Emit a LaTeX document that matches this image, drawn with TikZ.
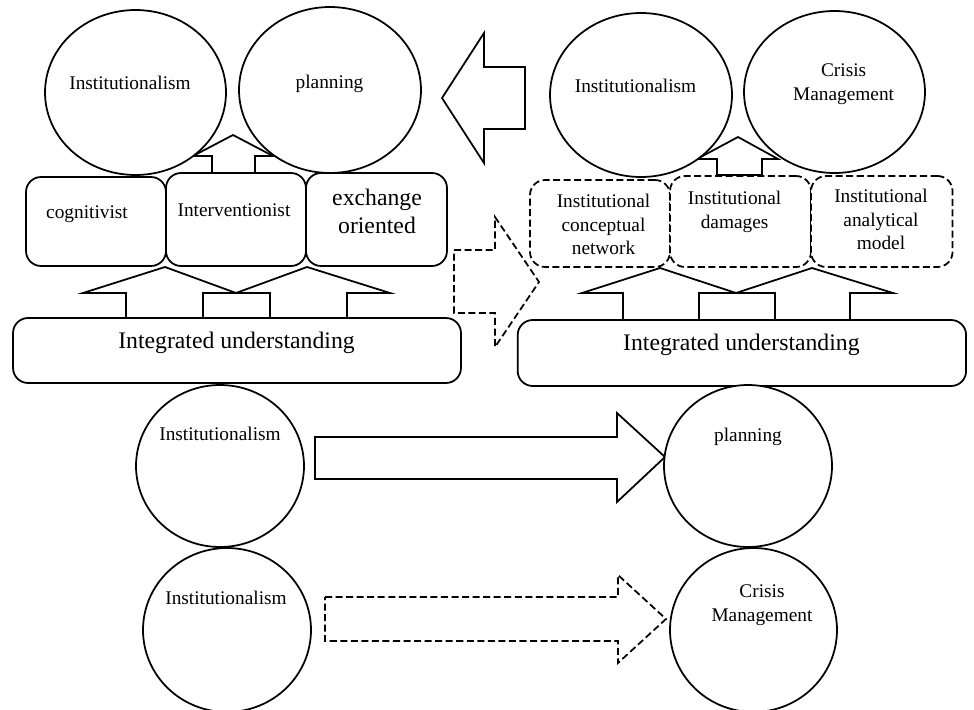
\documentclass[tikz,border=0pt]{standalone}
\usepackage{fontspec}
\setmainfont{Liberation Serif}
\usetikzlibrary{shapes.geometric}
\tikzset{circ/.style = {draw, fill=white, line width=1pt, ellipse, inner sep=0pt},
         blk/.style = {draw, fill=white, line width=1pt, rectangle, rounded corners=0.3cm, inner sep=0pt},
         dblk/.style = {blk, dash pattern=on 4pt off 2pt},
         barrow/.style = {draw, fill=white, line width=1pt, line join=miter},
         dbarrow/.style = {barrow, dash pattern=on 4pt off 2pt},
         lbl/.style = {inner sep=0pt, align=center, font=\fontsize{11}{14}\selectfont},
         biglbl/.style = {lbl, font=\fontsize{13.5}{16}\selectfont},
         boxlbl/.style = {lbl, font=\fontsize{11}{13.3}\selectfont}}

\begin{document}
\begin{tikzpicture}[x=0.02cm, y=-0.02cm]
    \useasboundingbox (0,0) rectangle (974,710);
    % block arrows
    \draw[barrow](525,67)--(484,67)--(484,33)--(442,98)--(484,163)--(484,129)--(525,129)--cycle;
    \draw[dbarrow](454,250)--(495,250)--(495,217)--(539,282)--(495,347)--(495,313)--(454,313)--cycle;
    \draw[barrow](212,173)--(212,156)--(193,156)--(233,135)--(273,156)--(255,156)--(255,173)--cycle;
    \draw[barrow](717,175)--(717,159)--(697,159)--(738,137)--(778,159)--(762,159)--(762,175)--cycle;
    \draw[barrow](126,318)--(126,293)--(83,293)--(165,267)--(236,293)--(203,293)--(203,318)--cycle;
    \draw[barrow](270,318)--(270,293)--(236,293)--(307,267)--(390,293)--(347,293)--(347,318)--cycle;
    \draw[barrow](623,320)--(623,293)--(582,293)--(660,268)--(736,293)--(699,293)--(699,320)--cycle;
    \draw[barrow](775,320)--(775,293)--(736,293)--(812,268)--(893,293)--(850,293)--(850,320)--cycle;
    \draw[barrow](315,437)--(617,437)--(617,413)--(665,457)--(617,502)--(617,479)--(315,479)--cycle;
    \draw[dbarrow](325,597)--(618,597)--(618,575)--(666,619)--(618,663)--(618,641)--(325,641)--cycle;
    % boxes
    \node[blk, minimum width=2.8cm, minimum height=1.78cm](cog)at(96,221.5){};
    \node[blk, minimum width=2.8cm, minimum height=1.86cm](interv)at(236,219.5){};
    \node[blk, minimum width=2.82cm, minimum height=1.86cm](exch)at(376.5,219.5){};
    \node[blk, minimum width=8.96cm, minimum height=1.3cm](intL)at(237,350.5){};
    \node[dblk, minimum width=2.8cm, minimum height=1.74cm](concept)at(600,223.5){};
    \node[dblk, minimum width=2.82cm, minimum height=1.82cm](damage)at(740.5,221.5){};
    \node[dblk, minimum width=2.83cm, minimum height=1.82cm](analyt)at(881.8,221.5){};
    \node[blk, minimum width=8.97cm, minimum height=1.32cm](intR)at(741.9,353){};
    % circles
    \node[circ, minimum width=3.62cm, minimum height=3.3cm](instA)at(135.5,92.5){};
    \node[circ, minimum width=3.64cm, minimum height=3.32cm](planA)at(330,90){};
    \node[circ, minimum width=3.64cm, minimum height=3.28cm](instB)at(641,95){};
    \node[circ, minimum width=3.62cm, minimum height=3.24cm](crisB)at(834.5,92){};
    \node[circ, minimum width=3.36cm, minimum height=3.24cm](instC)at(220,466){};
    \node[circ, minimum width=3.36cm, minimum height=3.24cm](planC)at(748,466){};
    \node[circ, minimum width=3.36cm, minimum height=3.28cm](instD)at(227,630){};
    \node[circ, minimum width=3.34cm, minimum height=3.28cm](crisD)at(753.5,630){};
    % labels
    \node[lbl, anchor=base](tInstA)at(130,89){Institutionalism};
    \node[lbl, anchor=base](tPlanA)at(329.5,88){planning};
    \node[lbl, anchor=base](tInstB)at(635.5,92){Institutionalism};
    \node[lbl, anchor=north](tCrisB)at(843.6,63){Crisis\\Management};
    \node[lbl, anchor=base](tCog)at(87,218){cognitivist};
    \node[lbl, anchor=base](tInterv)at(234,216){Interventionist};
    \node[biglbl, anchor=north](tExch)at(377,189){exchange\\oriented};
    \node[biglbl, anchor=base](tIntL)at(236.5,348){Integrated understanding};
    \node[biglbl, anchor=base](tIntR)at(741.4,350){Integrated understanding};
    \node[boxlbl, anchor=north](tConcept)at(603.5,194){Institutional\\conceptual\\network};
    \node[boxlbl, anchor=north](tDamage)at(734.6,191){Institutional\\damages};
    \node[boxlbl, anchor=north](tAnalyt)at(881,189){Institutional\\analytical\\model};
    \node[lbl, anchor=base](tInstC)at(220,440){Institutionalism};
    \node[lbl, anchor=base](tPlanC)at(748,441){planning};
    \node[lbl, anchor=base](tInstD)at(226,604){Institutionalism};
    \node[lbl, anchor=north](tCrisD)at(762,584){Crisis\\Management};
\end{tikzpicture}
\end{document}
